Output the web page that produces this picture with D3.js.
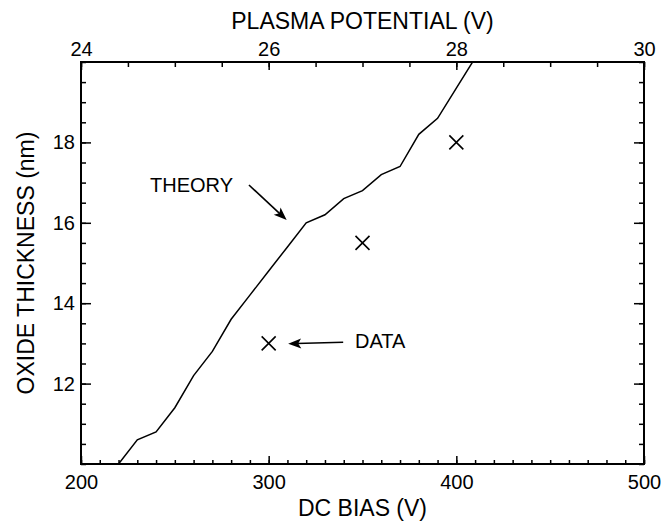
<!DOCTYPE html>
<html>
<head>
<meta charset="utf-8">
<script src="https://cdn.jsdelivr.net/npm/d3@7"></script>
<style>
  body { margin: 0; background: #fff; }
  svg text { font-family: "Liberation Sans", Arial, Helvetica, sans-serif; fill: #000; }
</style>
</head>
<body>
<div id="graf"></div>
<script>
// datos
theoryBias  = [220, 230, 240, 250, 260, 270, 280, 290, 300, 310, 320, 330, 340, 350, 360, 370, 380, 390, 400, 410]
theoryThick = [10.0, 10.6, 10.8, 11.4, 12.2, 12.8, 13.6, 14.2, 14.8, 15.4, 16.0, 16.2, 16.6, 16.8, 17.2, 17.4, 18.2, 18.6, 19.35, 20.1]

dataBias  = [300, 350, 400]
dataThick = [13.0, 15.5, 18.0]

biasTicks   = [200, 300, 400, 500]
plasmaTicks = [24, 26, 28, 30]
thickTicks  = [12, 14, 16, 18]

// configuracion de margenes
ancho_total = 670
alto_total = 522
margins = { top: 62, left: 81, right: 26, bottom: 58 }
ancho = ancho_total - margins.left - margins.right
alto  = alto_total - margins.top - margins.bottom

svg = d3.select('#graf').append('svg')
        .attr('width', ancho_total)
        .attr('height', alto_total)

g = svg.append('g')
      .attr('transform', `translate(${ margins.left }, ${ margins.top })`)

// escalas
x = d3.scaleLinear().domain([200, 500]).range([0, ancho])
xTop = d3.scaleLinear().domain([24, 30]).range([0, ancho])
y = d3.scaleLinear().domain([10, 20]).range([alto, 0])

fontSize = 20
tituloSize = 23
fmt = d3.format('d')

// ejes: menores y mayores, ticks hacia adentro
function ejes() {
  // abajo
  g.append('g').attr('transform', `translate(0, ${ alto })`)
    .call(d3.axisBottom(x).tickValues(d3.range(200, 501, 10)).tickSize(-4).tickSizeOuter(0).tickFormat(''))
  g.append('g').attr('class', 'lab').attr('transform', `translate(0, ${ alto })`)
    .call(d3.axisBottom(x).tickValues(biasTicks).tickSize(-8).tickSizeOuter(0).tickPadding(11).tickFormat(fmt))
  // arriba
  g.append('g')
    .call(d3.axisTop(xTop).tickValues(d3.range(24, 30.01, 0.5)).tickSize(-5).tickSizeOuter(0).tickFormat(''))
  g.append('g').attr('class', 'lab')
    .call(d3.axisTop(xTop).tickValues(plasmaTicks).tickSize(-8).tickSizeOuter(0).tickPadding(6).tickFormat(fmt))
  // izquierda
  g.append('g')
    .call(d3.axisLeft(y).tickValues(d3.range(10, 20.01, 0.5)).tickSize(-5).tickSizeOuter(0).tickFormat(''))
  g.append('g').attr('class', 'lab')
    .call(d3.axisLeft(y).tickValues(thickTicks).tickSize(-10).tickSizeOuter(0).tickPadding(6).tickFormat(fmt))
  // derecha
  g.append('g').attr('transform', `translate(${ ancho }, 0)`)
    .call(d3.axisRight(y).tickValues(d3.range(10, 20.01, 0.5)).tickSize(-5).tickSizeOuter(0).tickFormat(''))
  g.append('g').attr('transform', `translate(${ ancho }, 0)`)
    .call(d3.axisRight(y).tickValues(thickTicks).tickSize(-10).tickSizeOuter(0).tickFormat(''))
}
ejes()

g.selectAll('.domain').remove()
g.selectAll('.tick line').attr('stroke', '#000').attr('stroke-width', 1.5)
g.selectAll('.lab text').attr('font-size', fontSize).attr('font-family', null).style('fill', '#000')

// marco
g.append('rect')
  .attr('width', ancho).attr('height', alto)
  .attr('fill', 'none').attr('stroke', '#000').attr('stroke-width', 2)

// titulos de ejes
svg.append('text')
  .attr('x', margins.left + ancho / 2).attr('y', 29)
  .attr('text-anchor', 'middle').attr('font-size', tituloSize)
  .text('PLASMA POTENTIAL (V)')
svg.append('text')
  .attr('x', margins.left + ancho / 2).attr('y', 516)
  .attr('text-anchor', 'middle').attr('font-size', tituloSize)
  .text('DC BIAS (V)')
svg.append('text')
  .attr('transform', `translate(34, ${ margins.top + alto / 2 }) rotate(-90)`)
  .attr('text-anchor', 'middle').attr('font-size', tituloSize)
  .text('OXIDE THICKNESS (nm)')

// curva teorica
svg.append('clipPath').attr('id', 'clip')
  .append('rect').attr('width', ancho).attr('height', alto)

theory = theoryBias.map((b, i) => ({ b: b, t: theoryThick[i] }))
g.append('path')
  .datum(theory)
  .attr('clip-path', 'url(#clip)')
  .attr('fill', 'none').attr('stroke', '#000').attr('stroke-width', 1.5)
  .attr('d', d3.line().x(d => x(d.b)).y(d => y(d.t)))

// datos (cruces)
data = dataBias.map((b, i) => ({ b: b, t: dataThick[i] }))
g.selectAll('.cruz')
  .data(data)
  .enter().append('path')
    .attr('class', 'cruz')
    .attr('transform', d => `translate(${ x(d.b) }, ${ y(d.t) })`)
    .attr('d', 'M-7,-7L7,7M-7,7L7,-7')
    .attr('stroke', '#000').attr('stroke-width', 1.6).attr('fill', 'none')

// anotaciones con flechas
function flecha(x1, y1, x2, y2) {
  var ang = Math.atan2(y2 - y1, x2 - x1) * 180 / Math.PI
  var largo = Math.hypot(x2 - x1, y2 - y1)
  var a = g.append('g').attr('transform', `translate(${ x1 }, ${ y1 }) rotate(${ ang })`)
  a.append('line').attr('x1', 0).attr('y1', 0).attr('x2', largo - 8).attr('y2', 0)
    .attr('stroke', '#000').attr('stroke-width', 1.6)
  a.append('path')
    .attr('d', `M${ largo },0L${ largo - 13 },-5L${ largo - 10 },0L${ largo - 13 },5Z`)
    .attr('fill', '#000')
}

g.append('text')
  .attr('x', x(236.8)).attr('y', y(16.77))
  .attr('font-size', fontSize).text('THEORY')
flecha(x(289.5), y(16.94), x(309.6), y(16.07))

g.append('text')
  .attr('x', x(346)).attr('y', y(12.89))
  .attr('font-size', fontSize).text('DATA')
flecha(x(339.7), y(13.03), x(310.4), y(12.99))
</script>
</body>
</html>
